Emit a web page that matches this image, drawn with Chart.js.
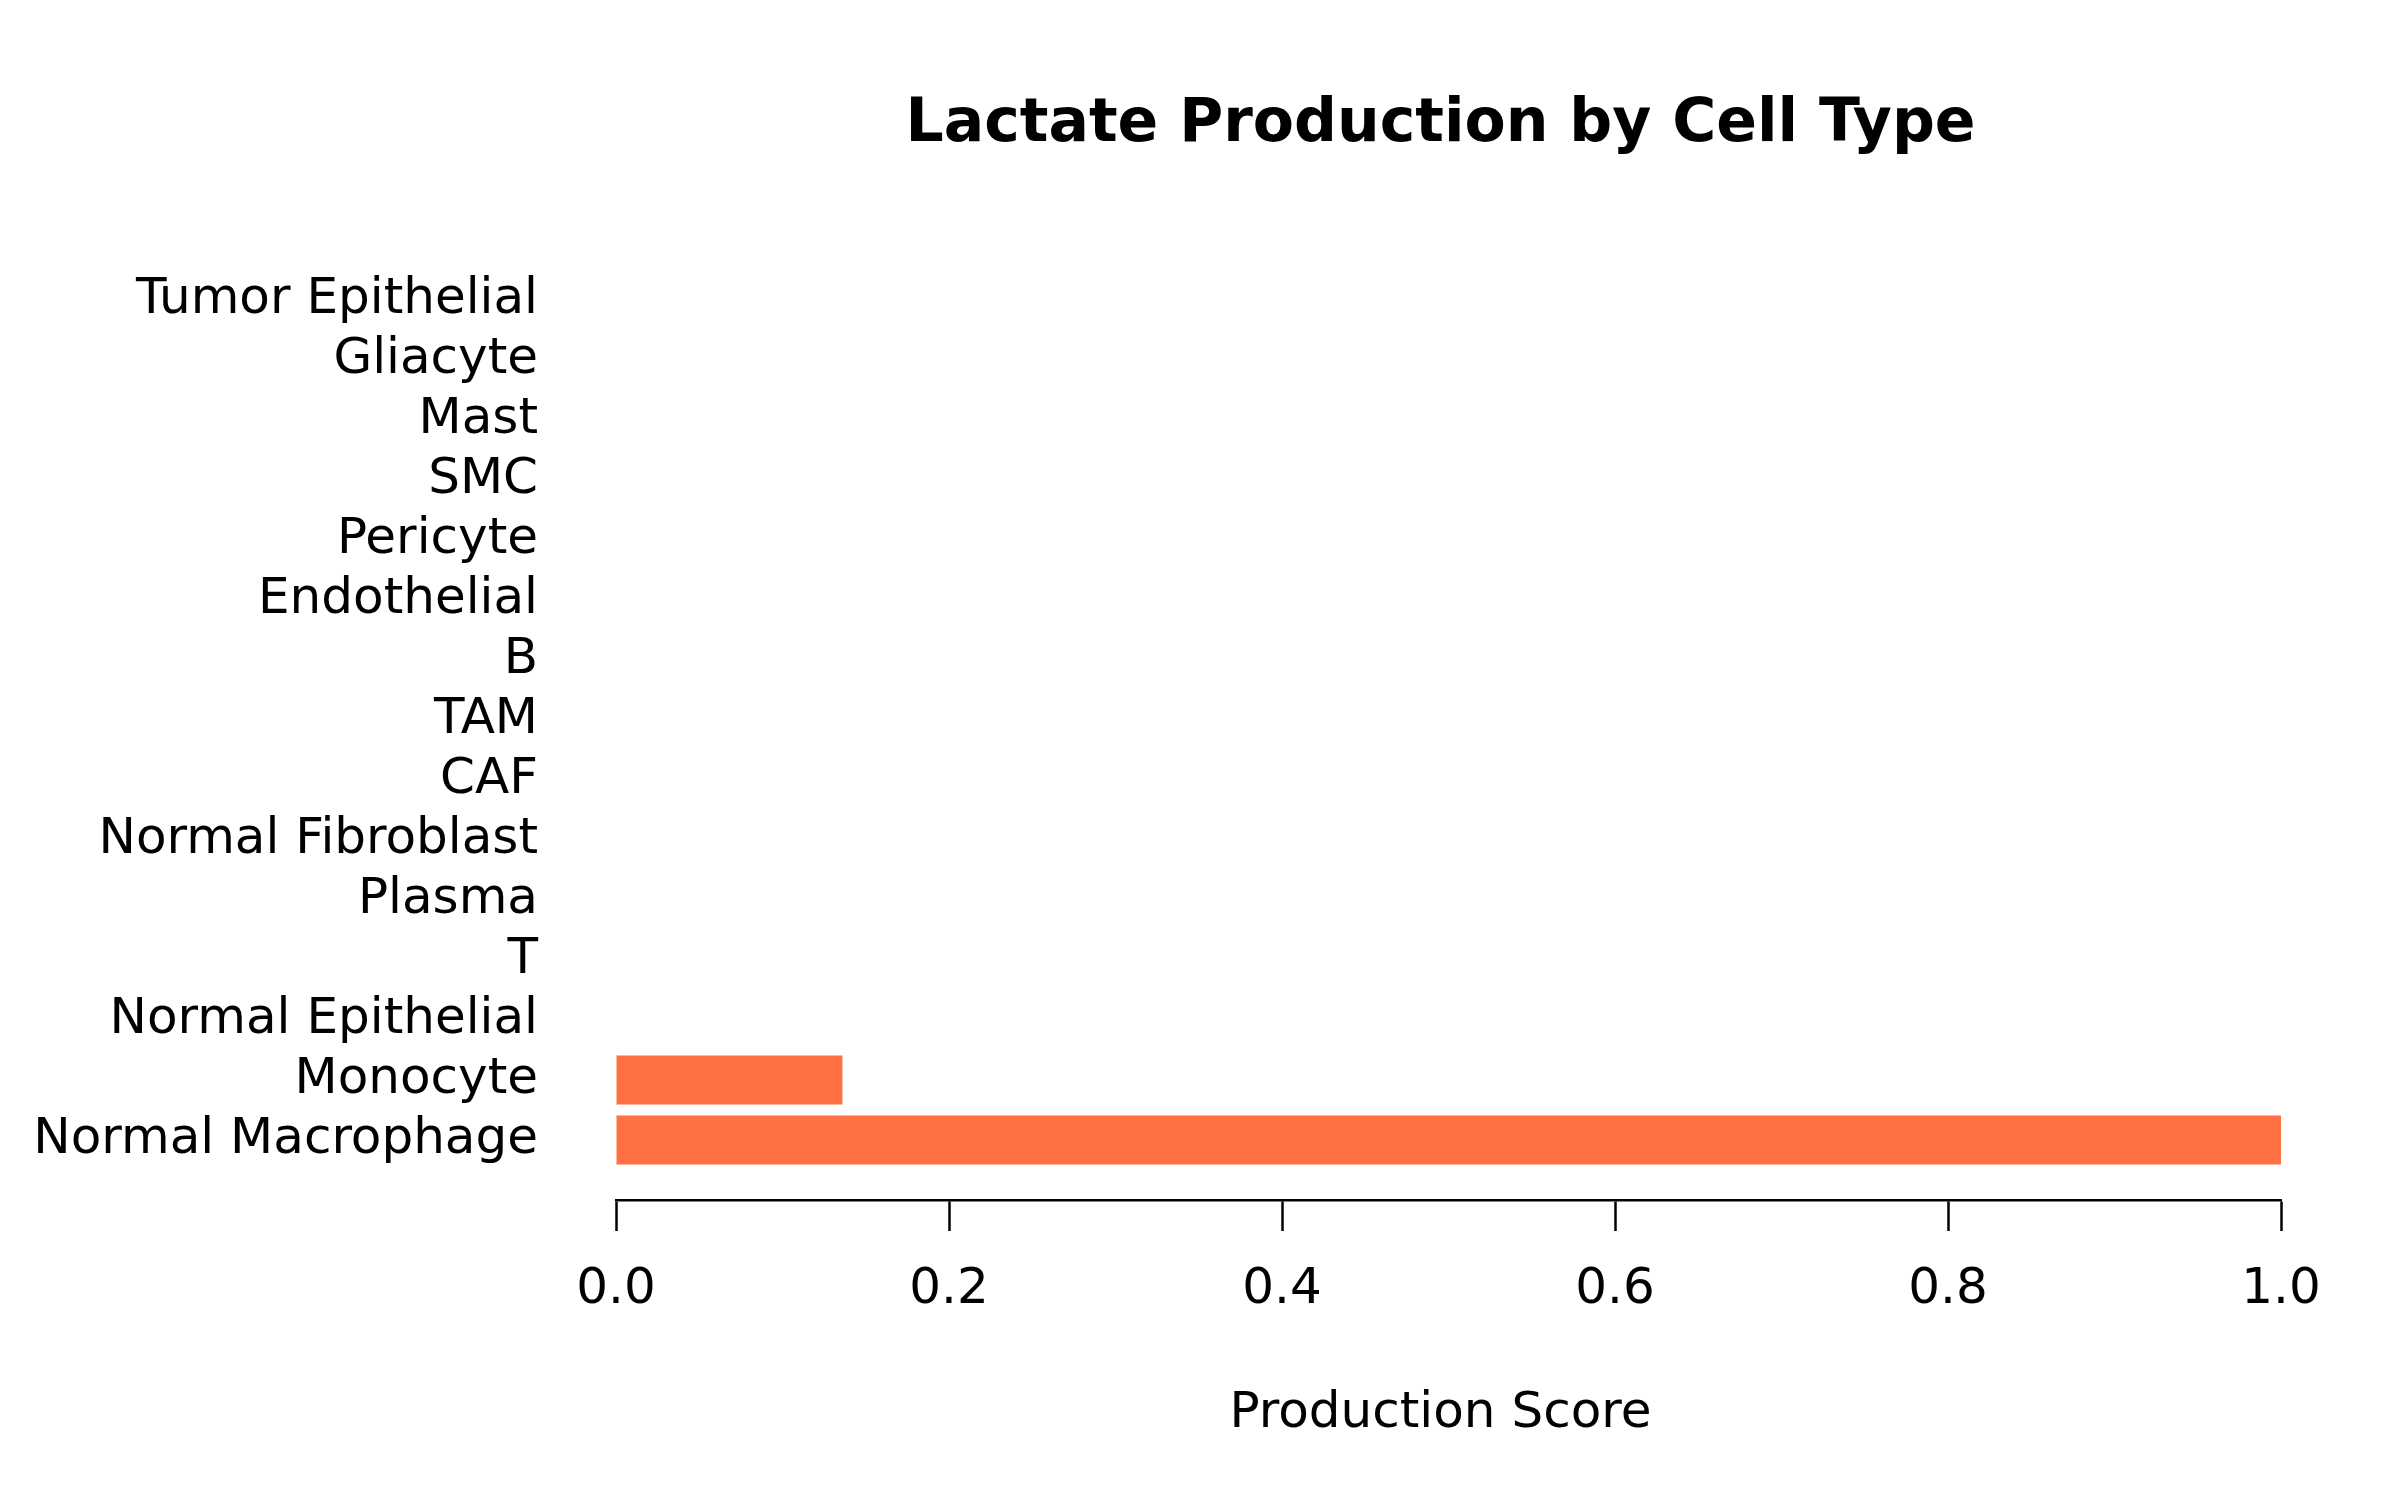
<!DOCTYPE html>
<html>
<head>
<meta charset="utf-8">
<script src="https://cdn.jsdelivr.net/npm/chart.js@4/dist/chart.umd.min.js"></script>
<style>
  html, body { margin: 0; padding: 0; background: #fff; }
  #wrap { width: 2400px; height: 1500px; }
</style>
</head>
<body>
<div id="wrap"><canvas id="lactateChart"></canvas></div>
<script>
// bottom to top, as the bars are stacked in the figure
const cellTypes = [
  "Normal Macrophage", "Monocyte", "Normal Epithelial", "T", "Plasma",
  "Normal Fibroblast", "CAF", "TAM", "B", "Endothelial",
  "Pericyte", "SMC", "Mast", "Gliacyte", "Tumor Epithelial"
];
const productionScores = [1.0, 0.136, 0, 0, 0, 0, 0, 0, 0, 0, 0, 0, 0, 0, 0];
const xTicks = [0, 0.2, 0.4, 0.6, 0.8, 1.0];

const chartTitle = "Lactate Production by Cell Type";
const xTitle = "Production Score";
const fontFamily = '"DejaVu Sans", sans-serif';

// titles are centred over the plot area, not the canvas
const titlePlugin = {
  id: "plotTitles",
  afterDraw(chart) {
    const { ctx, chartArea } = chart;
    const cx = (chartArea.left + chartArea.right) / 2 - 8;
    ctx.save();
    ctx.fillStyle = "#000";
    ctx.textAlign = "center";
    ctx.textBaseline = "middle";
    ctx.font = `bold 60px ${fontFamily}`;
    ctx.fillText(chartTitle, cx, 125);
    ctx.font = `50px ${fontFamily}`;
    ctx.fillText(xTitle, cx, 1414);
    ctx.restore();
  }
};

const ctx = document.getElementById("lactateChart").getContext("2d");
const chart = new Chart(ctx, {
  type: "bar",
  data: {
    datasets: [{
      label: "Production Score",
      data: cellTypes.map((c, i) => ({ x: productionScores[i], y: i })),
      backgroundColor: "#FF7043",
      borderWidth: 0,
      barPercentage: 0.82,
      categoryPercentage: 1.0
    }]
  },
  options: {
    indexAxis: "y",
    responsive: true,
    maintainAspectRatio: false,
    devicePixelRatio: 1,
    animation: false,
    layout: { padding: { top: 264, right: 119, bottom: 0, left: 0 } },
    plugins: {
      legend: { display: false },
      tooltip: { enabled: false }
    },
    scales: {
      x: {
        type: "linear",
        position: "bottom",
        min: 0,
        max: 1,
        afterBuildTicks: (scale) => { scale.ticks = xTicks.map(v => ({ value: v })); },
        afterFit: (scale) => { scale.height = 300; },
        grid: {
          drawOnChartArea: false,
          drawTicks: true,
          tickLength: 31,
          tickWidth: 2.5,
          tickColor: "#000"
        },
        border: { display: true, color: "#000", width: 2.5 },
        ticks: {
          color: "#000",
          padding: 29,
          autoSkip: false,
          font: { family: fontFamily, size: 50 },
          callback: (v) => Number(v).toFixed(1)
        }
      },
      y: {
        type: "linear",
        position: "left",
        offset: false,
        min: -1,
        max: 14.6,
        afterBuildTicks: (scale) => { scale.ticks = cellTypes.map((c, i) => ({ value: i })); },
        afterFit: (scale) => { scale.width = 616; },
        grid: { display: false, drawTicks: false, offset: false },
        border: { display: false },
        ticks: {
          color: "#000",
          padding: 78,
          autoSkip: false,
          font: { family: fontFamily, size: 50 },
          callback: (v) => cellTypes[v] ?? ""
        }
      }
    }
  },
  plugins: [titlePlugin]
});
</script>
</body>
</html>
